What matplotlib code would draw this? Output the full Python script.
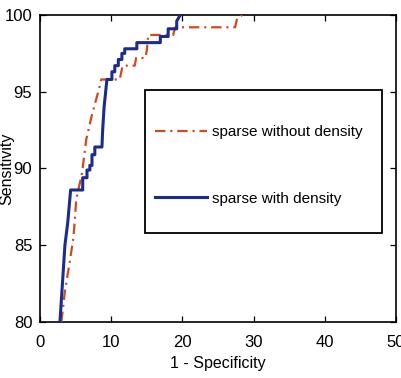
import matplotlib
matplotlib.use("Agg")
import matplotlib.pyplot as plt
from matplotlib.patches import Rectangle

plt.rcParams['font.family'] = ['Liberation Sans', 'DejaVu Sans']
plt.rcParams['lines.scale_dashes'] = False

# Series (step-shaped ROC curves)
without_x = [3.0, 3.5, 4.2, 4.7, 5.1, 5.9, 6.5, 7.3, 8.3, 8.6, 11.2, 11.6, 13.3, 13.5,
             14.8, 15.0, 15.2, 18.7, 19.0, 27.4, 27.7, 28.4]
without_y = [80.0, 82.0, 84.0, 85.5, 88.0, 89.7, 91.9, 93.5, 95.2, 95.8, 95.8, 96.7, 96.7, 97.2,
             97.2, 97.7, 98.7, 98.7, 99.2, 99.2, 99.8, 100.0]

with_x = [2.8, 3.5, 3.9, 4.3, 6.0, 6.0, 6.6, 6.6, 7.0, 7.0, 7.3, 7.3, 7.7, 7.7, 8.7,
          8.8, 9.0, 9.4, 10.1, 10.1, 10.5, 10.5, 11.0, 11.0, 11.5, 11.5, 11.9, 11.9, 13.6,
          13.6, 16.9, 16.9, 18.0, 18.0, 19.2, 19.2, 19.7]
with_y = [80.0, 85.0, 86.5, 88.6, 88.6, 89.4, 89.4, 89.9, 89.9, 90.2, 90.2, 90.9, 90.9, 91.4, 91.4,
          92.5, 94.0, 95.8, 95.8, 96.3, 96.3, 96.7, 96.7, 97.1, 97.1, 97.5, 97.5, 97.8, 97.8,
          98.2, 98.2, 98.6, 98.6, 99.1, 99.1, 99.6, 100.0]

labels = ['sparse without density', 'sparse with density']
xticks = [0, 10, 20, 30, 40, 50]
yticks = [80, 85, 90, 95, 100]

fig = plt.figure(figsize=(4.02, 3.78), dpi=100)
ax = fig.add_axes([40/402, 56/378, 356/402, 307/378])

red = '#d04a1c'
blue = '#1c2c8c'
ax.plot(without_x, without_y, color=red, lw=1.6, linestyle=(0, (7.5, 3.5, 1.5, 3.5)),
        label=labels[0], zorder=3)
ax.plot(with_x, with_y, color=blue, lw=2.2, label=labels[1], zorder=4)

ax.set_xlim(0, 50)
ax.set_ylim(80, 100)
ax.set_xticks(xticks)
ax.set_yticks(yticks)
ax.tick_params(direction='in', length=4, width=0.9, top=True, right=True,
               labelsize=12, colors='black')
ax.tick_params(axis='x', pad=9.5)
ax.tick_params(axis='y', pad=5.5)
for s in ax.spines.values():
    s.set_linewidth(1.2)

ax.set_xlabel('1 - Specificity', fontsize=11.5, labelpad=4.5)
ax.set_ylabel('Sensitivity', fontsize=11.5)
ax.yaxis.set_label_coords(-0.071, 0.5)

# legend frame
ax.add_patch(Rectangle((0.295, 0.290), 0.666, 0.466, transform=ax.transAxes,
                       fill=True, facecolor='white', edgecolor='black', lw=1.3, zorder=5))
leg = ax.legend(loc='center left', bbox_to_anchor=(0.323, 0.51), frameon=False,
                fontsize=11, handlelength=3.4, handletextpad=0.3, labelspacing=3.45,
                borderpad=0, borderaxespad=0)
leg.set_zorder(6)

fig.savefig('out.png', dpi=100)
